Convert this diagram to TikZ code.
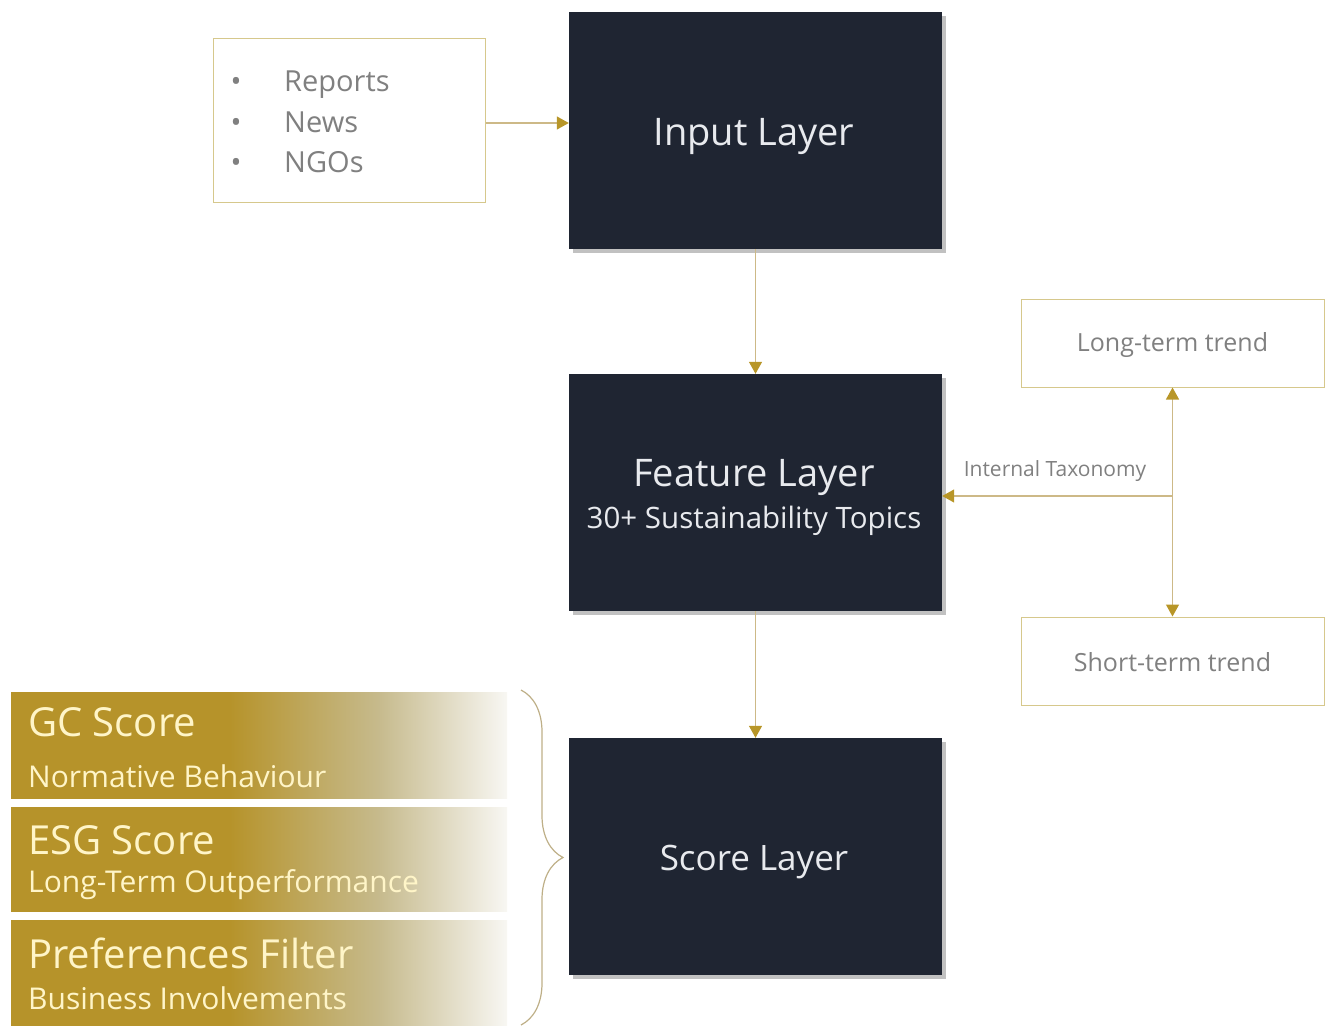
\documentclass[tikz,border=0pt]{standalone}
\usepackage{fontspec}
\setmainfont{Open Sans}
\usetikzlibrary{shadows,decorations.pathreplacing,arrows.meta}
\definecolor{darkbox}{RGB}{31,37,50}
\definecolor{goldarrow}{RGB}{184,150,40}
\definecolor{goldline}{RGB}{205,185,135}
\definecolor{boxborder}{RGB}{214,200,140}
\definecolor{graytext}{RGB}{128,128,128}
\definecolor{barGold}{RGB}{182,147,42}
\definecolor{barMid}{RGB}{198,186,140}
\definecolor{barEnd}{RGB}{248,247,243}
\definecolor{cream}{RGB}{255,245,200}
\definecolor{layertext}{RGB}{232,234,238}
\definecolor{bracecol}{RGB}{190,175,135}
\pgfdeclarehorizontalshading{goldfade}{100bp}{color(0bp)=(barGold); color(25bp)=(barGold); color(47bp)=(barGold); color(62bp)=(barMid); color(75bp)=(barEnd); color(100bp)=(barEnd)}
\newcommand{\fs}[1]{\fontsize{#1pt}{#1pt}\selectfont}
\begin{document}
\begin{tikzpicture}[x=1pt,y=-1pt,
  layerbox/.style={fill=darkbox, minimum width=373pt, minimum height=237pt, inner sep=0pt,
    drop shadow={shadow xshift=4pt, shadow yshift=-4pt, opacity=0.35, fill=black!70}},
  layerlabel/.style={text=layertext, inner sep=0pt},
  lightbox/.style={draw=boxborder, line width=1pt, fill=white, inner sep=0pt},
  bar/.style={shade, shading=goldfade, minimum width=496pt, inner sep=0pt},
  bartitle/.style={anchor=west, text=cream, inner sep=0pt, font=\fs{40}},
  barsub/.style={anchor=west, text=cream, inner sep=0pt, font=\fs{30}},
  conn/.style={draw=goldline, line width=1.2pt},
  tip/.style={-{Triangle[color=goldarrow,length=12pt,width=13pt]}},
  graylabel/.style={text=graytext, inner sep=0pt},
]
\useasboundingbox (0,0) rectangle (1327,1030);

% layer boxes
\node[layerbox] (input) at (755.5,130.5) {};
\node[layerbox] (feature) at (755.5,492.5) {};
\node[layerbox] (score) at (755.5,856.5) {};
\node[layerlabel, font=\fs{38}] (inputtxt) at (754,137) {Input Layer};
\node[layerlabel, font=\fs{38}] (featuretxt) at (754,477) {Feature Layer};
\node[layerlabel, font=\fs{29.5}] (featuresub) at (754,521) {30+ Sustainability Topics};
\node[layerlabel, font=\fs{35}] (scoretxt) at (754,862) {Score Layer};

% sources box
\node[lightbox, minimum width=272pt, minimum height=163pt] (sources) at (349,120.5) {};
\node[graylabel, anchor=base, font=\fs{29}] (b1) at (236,92) {•};
\node[graylabel, anchor=base, font=\fs{29}] (b2) at (236,132) {•};
\node[graylabel, anchor=base, font=\fs{29}] (b3) at (236,172) {•};
\node[graylabel, anchor=base west, font=\fs{29}] (t1) at (284,92) {Reports};
\node[graylabel, anchor=base west, font=\fs{29}] (t2) at (284,132) {News};
\node[graylabel, anchor=base west, font=\fs{29}] (t3) at (284,172) {NGOs};

% trend boxes
\node[lightbox, minimum width=303pt, minimum height=88pt] (longterm) at (1172.5,343) {};
\node[lightbox, minimum width=303pt, minimum height=88pt] (shortterm) at (1172.5,661) {};
\node[graylabel, font=\fs{25}] (longtxt) at (1172.5,345) {Long-term trend};
\node[graylabel, font=\fs{25}] (shorttxt) at (1172.5,662) {Short-term trend};

% connectors
\draw[conn, tip] (sources.east |- 0,123) -- (input.west |- 0,123);
\draw[conn, tip] (input.south) -- (feature.north);
\draw[conn, tip] (feature.south) -- (score.north);
\coordinate (junction) at (1172.5,496);
\draw[conn, tip] (junction) -- (feature.east |- junction);
\draw[conn, tip] (junction) -- (longterm.south);
\draw[conn, tip] (junction) -- (shortterm.north);
\node[graylabel, font=\fs{21}] (taxo) at (1055,471) {Internal Taxonomy};

% gold bars
\node[bar, minimum height=106pt] (gc) at (259,745) {};
\node[bar, minimum height=104pt] (esg) at (259,859) {};
\node[bar, minimum height=105pt] (pref) at (259,972.5) {};
\node[bartitle] (gct) at (28,722) {GC Score};
\node[barsub] (gcs) at (28,776) {Normative Behaviour};
\node[bartitle] (esgt) at (28,840) {ESG Score};
\node[barsub] (esgs) at (28,885) {Long-Term Outperformance};
\node[bartitle] (preft) at (28,953) {Preferences Filter};
\node[barsub] (prefs) at (28,998) {Business Involvements};

% brace
\coordinate (bracetop) at (521,690);
\coordinate (bracebot) at (521,1025);
\draw[draw=bracecol, line width=1.2pt, decorate, decoration={brace, amplitude=42pt}] (bracetop) -- (bracebot);
\end{tikzpicture}
\end{document}
